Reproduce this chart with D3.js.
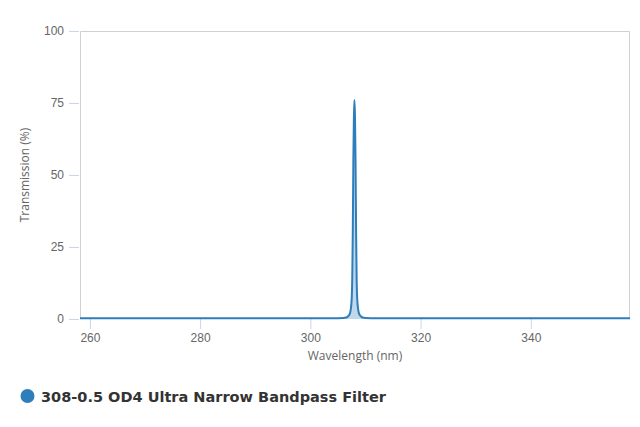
<!DOCTYPE html>
<html lang="en">
<head>
<meta charset="UTF-8">
<title>308-0.5 OD4 Ultra Narrow Bandpass Filter</title>
<script src="https://d3js.org/d3.v7.min.js"></script>
<style>
    body { margin: 0; background: #fff; }
    svg { display: block; font-family: "Open Sans", "DejaVu Sans", sans-serif; }
    .tick text { fill: #666; font-size: 12px; }
</style>
</head>
<body>
<svg id="chart" width="640" height="427"></svg>
<script>
// Transmission curve
const wavelength = [258.2, 280, 300, 305, 306, 306.5, 306.8, 307.1, 307.3, 307.5, 307.6, 307.7, 307.8, 307.9, 308.0,
                    308.1, 308.2, 308.3, 308.4, 308.5, 308.7, 308.9, 309.2, 309.5, 310, 311, 320, 340, 358];
const transmission = [0.3, 0.3, 0.3, 0.3, 0.35, 0.5, 0.9, 1.6, 3, 7, 14, 30, 55, 70, 76,
                      70, 55, 30, 14, 7, 3, 1.6, 0.9, 0.5, 0.35, 0.3, 0.3, 0.3, 0.3];
const xTicks = [260, 280, 300, 320, 340];
const yTicks = [0, 25, 50, 75, 100];
const seriesName = "308-0.5 OD4 Ultra Narrow Bandpass Filter";

const svg = d3.select('#chart');
const margin = {left: 80, top: 31, right: 10, bottom: 108};
const width = 640 - margin.left - margin.right;
const height = 427 - margin.top - margin.bottom;
const blue = '#2f7ebc';

const x = d3.scaleLinear().domain([258.2, 358]).range([0, width]);
const y = d3.scaleLinear().domain([0, 100]).range([height, 0]);

const g = svg.append('g').attr('transform', `translate(${margin.left},${margin.top})`);

// plot frame
g.append('path')
    .attr('d', `M0.5,${height}V0.5H${width - 0.5}V${height}`)
    .attr('fill', 'none')
    .attr('stroke', '#d0d0d0');

// axes
const yAxis = g.append('g')
    .call(d3.axisLeft(y).tickValues(yTicks).tickSize(10).tickPadding(6).tickFormat(d3.format('d')));
yAxis.select('.domain').remove();
yAxis.selectAll('.tick line').attr('stroke', '#ccd6eb').attr('transform', 'translate(-1,0)');

const xAxis = g.append('g')
    .attr('transform', `translate(0,${height})`)
    .call(d3.axisBottom(x).tickValues(xTicks).tickSize(10).tickPadding(4).tickFormat(d3.format('d')));
xAxis.select('.domain').remove();
xAxis.selectAll('.tick line').attr('stroke', '#ccd6eb');

// series
const data = wavelength.map((w, i) => ({w: w, t: transmission[i]}));

g.append('path')
    .datum(data)
    .attr('fill', blue)
    .attr('fill-opacity', 0.3)
    .attr('d', d3.area().x(d => x(d.w)).y0(y(0)).y1(d => y(d.t)).curve(d3.curveMonotoneX));

g.append('path')
    .datum(data)
    .attr('fill', 'none')
    .attr('stroke', blue)
    .attr('stroke-width', 2)
    .attr('stroke-linejoin', 'round')
    .attr('d', d3.line().x(d => x(d.w)).y(d => y(d.t)).curve(d3.curveMonotoneX));

// axis titles
svg.append('text')
    .attr('x', margin.left + width / 2)
    .attr('y', 360)
    .attr('text-anchor', 'middle')
    .attr('fill', '#666')
    .attr('font-size', 12)
    .text('Wavelength (nm)');

svg.append('text')
    .attr('transform', `translate(29,${margin.top + height / 2}) rotate(-90)`)
    .attr('text-anchor', 'middle')
    .attr('fill', '#666')
    .attr('font-size', 12)
    .text('Transmission (%)');

// legend
svg.append('circle')
    .attr('cx', 27.5).attr('cy', 396).attr('r', 7)
    .attr('fill', blue);

svg.append('text')
    .attr('x', 41)
    .attr('y', 401.5)
    .attr('fill', '#333')
    .attr('font-size', 14.5)
    .attr('font-weight', 'bold')
    .attr('font-family', '"DejaVu Sans", sans-serif')
    .attr('textLength', 345)
    .attr('lengthAdjust', 'spacingAndGlyphs')
    .text(seriesName);
</script>
</body>
</html>
